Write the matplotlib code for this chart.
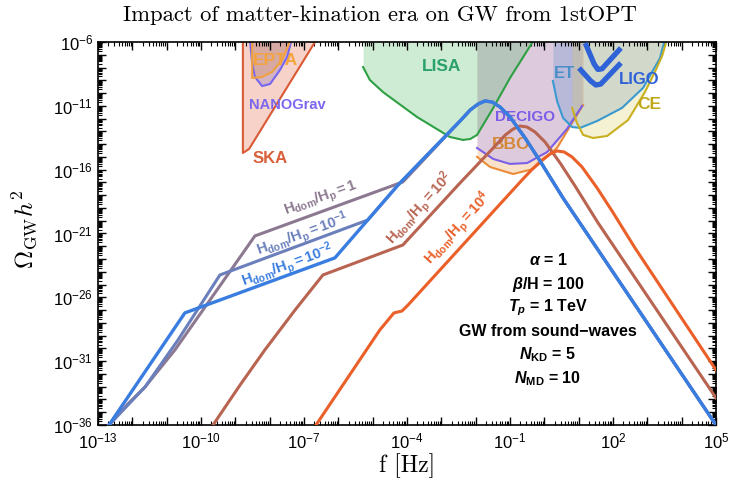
import matplotlib.pyplot as plt
import numpy as np
from matplotlib.ticker import LogLocator, FuncFormatter, NullFormatter

plt.rcParams['font.family'] = ['Liberation Sans', 'DejaVu Sans']
plt.rcParams['mathtext.fontset'] = 'custom'
plt.rcParams['mathtext.rm'] = 'Liberation Sans'
plt.rcParams['mathtext.it'] = 'Liberation Sans:italic'
plt.rcParams['mathtext.bf'] = 'Liberation Sans:bold'
plt.rcParams['mathtext.bfit'] = 'Liberation Sans:bold:italic'

# spectra: log10(f/Hz), log10(Omega h^2)
lf_m2 = [-12.68, -10.47, -6.10, -4.26, -2.455, -2.16, -1.93, -1.73, -1.52, -1.29, -1.00, -0.56, -0.125, 0.545, 5.0]
lo_m2 = [-36.0, -27.22, -22.91, -17.20, -12.19, -11.33, -10.86, -10.62, -10.70, -11.09, -11.87, -13.52, -15.32, -18.22, -36.0]

lf_m1 = [-12.68, -11.63, -10.67, -9.45, -5.14, -4.26, -2.455, -2.16, -1.93, -1.73, -1.52, -1.29, -1.00, -0.56, -0.125, 0.545, 5.0]
lo_m1 = [-36.0, -33.02, -29.34, -24.25, -19.94, -17.20, -12.19, -11.33, -10.86, -10.62, -10.70, -11.09, -11.87, -13.52, -15.32, -18.22, -36.0]

lf_0 = [-12.68, -12.13, -11.63, -10.76, -9.88, -8.43, -4.12, -2.455, -2.16, -1.93, -1.73, -1.52, -1.29, -1.00, -0.56, -0.125, 0.545, 5.0]
lo_0 = [-36.0, -34.35, -33.02, -30.12, -26.75, -21.19, -16.96, -12.19, -11.33, -10.86, -10.62, -10.70, -11.09, -11.87, -13.52, -15.32, -18.22, -36.0]

lf_2 = [-9.65, -8.86, -8.14, -7.26, -6.45, -4.12, -2.455, -1.435, -1.14, -0.91, -0.71, -0.50, -0.27, 0.02, 0.46, 0.895, 1.565, 5.0]
lo_2 = [-36.0, -32.86, -30.12, -26.99, -24.25, -21.90, -17.04, -14.15, -13.29, -12.82, -12.58, -12.66, -13.05, -13.83, -15.48, -17.28, -20.17, -33.88]

lf_4 = [-6.65, -4.79, -4.38, -4.145, -3.97, -0.65, -0.358, -0.063, 0.167, 0.367, 0.577, 0.807, 1.097, 1.537, 1.972, 2.64, 5.0]
lo_4 = [-36.0, -28.55, -27.22, -27.07, -26.60, -16.81, -15.98, -15.245, -14.775, -14.535, -14.615, -15.005, -15.785, -17.435, -19.235, -22.13, -31.69]

# detector sensitivity curves (log10 f, log10 Omega h^2)
ska_f = [-8.78, -8.78, -8.60, -6.68]
ska_o = [-6.0, -14.69, -14.38, -6.0]
epta_f = [-8.51, -8.51, -8.22, -7.93, -7.64, -7.41]
epta_o = [-6.0, -8.82, -8.74, -8.35, -7.41, -6.0]
nano_f = [-8.57, -8.51, -8.43, -8.22, -7.99, -7.70, -7.49, -7.38]
nano_o = [-6.0, -7.64, -8.74, -9.45, -9.29, -8.19, -7.17, -6.0]
lisa_f = [-5.28, -5.08, -4.70, -3.71, -2.75, -2.37, -2.16, -1.96, -1.49, -1.00, -0.36]
lisa_o = [-7.96, -8.98, -9.92, -11.87, -13.44, -13.67, -13.60, -13.28, -11.17, -8.82, -6.08]
decigo_f = [-1.96, -1.49, -1.00, -0.50, 0.08, 0.66, 1.10]
decigo_o = [-14.30, -15.16, -15.55, -15.48, -14.62, -12.81, -11.01]
bbo_f = [-1.96, -1.58, -0.91, -0.33, 0.37, 0.84, 1.13]
bbo_o = [-15.0, -15.79, -16.34, -15.95, -14.30, -12.19, -10.93]
et_f = [0.25, 0.37, 0.545, 0.81, 1.04, 1.535, 2.26, 2.875, 3.37, 3.49]
et_o = [-9.05, -10.62, -11.95, -12.66, -12.73, -12.19, -11.17, -9.60, -7.25, -6.0]
ce_f = [0.81, 0.95, 1.13, 1.42, 1.83, 2.44, 2.93, 3.22, 3.43, 3.55]
ce_o = [-11.17, -12.34, -13.28, -13.52, -13.36, -12.11, -9.92, -8.35, -7.10, -6.0]
ligo1_f = [1.19, 1.45, 1.56, 1.68, 2.23]
ligo1_o = [-6.08, -7.72, -8.15, -8.10, -6.47]
ligo2_f = [1.01, 1.35, 1.50, 1.64, 2.23]
ligo2_o = [-8.04, -9.05, -9.37, -9.30, -7.64]

fig = plt.figure(figsize=(7.32, 4.93), dpi=100)
ax = fig.add_axes([98/732, 1-425/493, 618/732, 383/493])
ax.set_xscale('log')
ax.set_yscale('log')
ax.set_xlim(1e-13, 1e5)
ax.set_ylim(1e-36, 1e-6)

p = lambda a: 10.0**np.array(a)

def region(lf, lo, c, fc, alpha, z=1):
    ax.fill_between(p(lf), p(lo), 1e-6, color=fc, alpha=alpha, lw=0, zorder=z)
    ax.plot(p(lf), p(lo), color=c, lw=1.5, zorder=2)

region(ska_f, ska_o, '#d95a35', '#e06040', 0.28)
region(nano_f, nano_o, '#7766ee', '#8070c0', 0.3)
region(epta_f, epta_o, '#f0a040', '#e09050', 0.3)
region(bbo_f, bbo_o, '#ea8c3a', '#f0a050', 0.3)
region(decigo_f, decigo_o, '#7b5fe6', '#ddcbdd', 1.0, z=1.1)
region(lisa_f, lisa_o, '#2ea043', '#4cb860', 0.27, z=1.2)
region(et_f, et_o, '#3a9ad0', '#4a80d0', 0.25, z=1.3)
region(ce_f, ce_o, '#c8b020', '#d8c850', 0.25, z=1.4)
for lf, lo in [(ligo1_f, ligo1_o), (ligo2_f, ligo2_o)]:
    ax.plot(p(lf), p(lo), color='#2e62d6', lw=3.8, zorder=3, solid_capstyle='butt', solid_joinstyle='round')

det_labels = [
    ('EPTA', -7.82, -7.41, '#f5a33a', 12.5),
    ('NANOGrav', -7.49, -10.93, '#7b68ee', 10.5),
    ('SKA', -7.99, -15.16, '#d9603b', 12),
    ('LISA', -2.98, -7.88, '#2aa06a', 12.5),
    ('DECIGO', -0.56, -11.87, '#7b5ce6', 11),
    ('BBO', -0.97, -13.99, '#d4883a', 12.5),
    ('ET', 0.60, -8.43, '#4a90c8', 12),
    ('LIGO', 2.76, -8.90, '#2e62d6', 12),
    ('CE', 3.05, -10.93, '#c0a818', 12.5),
]
for s, x, y, c, fs in det_labels:
    ax.text(10**x, 10**y, s, color=c, fontsize=fs, fontweight='bold', ha='center', va='center', zorder=4)

# spectra
ax.plot(p(lf_0), p(lo_0), color='#8c7890', lw=2.2, zorder=5)
ax.plot(p(lf_m1), p(lo_m1), color='#6a7fbb', lw=2.2, zorder=6)
ax.plot(p(lf_2), p(lo_2), color='#b86450', lw=2.2, zorder=5)
ax.plot(p(lf_4), p(lo_4), color='#eb5f28', lw=2.2, zorder=5)
ax.plot(p(lf_m2), p(lo_m2), color='#3a7de0', lw=2.4, zorder=7)

curve_labels = [
    (r'$\mathbf{H_{dom}/H_{p} = 1}$', -6.50, -18.29, '#8c7890', 20),
    (r'$\mathbf{H_{dom}/H_{p} = 10^{-1}}$', -7.03, -21.11, '#6a7fbb', 20),
    (r'$\mathbf{H_{dom}/H_{p} = 10^{-2}}$', -7.47, -23.54, '#3a7de0', 20),
    (r'$\mathbf{H_{dom}/H_{p} = 10^{2}}$', -3.62, -19.0, '#b86450', 48),
    (r'$\mathbf{H_{dom}/H_{p} = 10^{4}}$', -2.51, -20.57, '#eb5f28', 48),
]
for s, x, y, c, rot in curve_labels:
    ax.text(10**x, 10**y, s, color=c, fontsize=10.5, rotation=rot, ha='center', va='center',
            rotation_mode='anchor', zorder=8)

info = [
    r'$\boldsymbol{\alpha}$ = 1',
    r'$\boldsymbol{\beta}$/H = 100',
    r'$\boldsymbol{T}_\boldsymbol{p}$ = 1 TeV',
    'GW from sound\u2212waves',
    r'$\boldsymbol{N}_\mathbf{KD}$ = 5',
    r'$\boldsymbol{N}_\mathbf{MD}$ = 10',
]
info_y = [0.431, 0.368, 0.305, 0.245, 0.183, 0.120]
for s, y in zip(info, info_y):
    ax.text(0.728, y, s, transform=ax.transAxes, fontsize=11.5, fontweight='bold', ha='center', va='center')

# ticks
def fmt_x(v, pos):
    e = int(round(np.log10(v)))
    return r'$\mathdefault{10^{%d}}$' % e if (e + 13) % 3 == 0 else ''

def fmt_y(v, pos):
    e = int(round(np.log10(v)))
    return r'$\mathdefault{10^{%d}}$' % e if (e + 36) % 5 == 0 else ''

ax.xaxis.set_major_locator(LogLocator(base=10, subs=(1.0,), numticks=100))
ax.xaxis.set_minor_locator(LogLocator(base=10, subs=np.arange(2, 10), numticks=100))
ax.yaxis.set_major_locator(LogLocator(base=10, subs=(1.0,), numticks=100))
ax.yaxis.set_minor_locator(LogLocator(base=10, subs=np.arange(2, 10), numticks=100))
ax.xaxis.set_major_formatter(FuncFormatter(fmt_x))
ax.yaxis.set_major_formatter(FuncFormatter(fmt_y))
ax.xaxis.set_minor_formatter(NullFormatter())
ax.yaxis.set_minor_formatter(NullFormatter())
ax.tick_params(which='both', direction='in', top=True, right=True, labelsize=12)
ax.tick_params(which='major', length=6, width=1)
ax.tick_params(which='minor', length=3, width=0.8)
ax.tick_params(axis='x', which='major', pad=5)
for sp in ax.spines.values():
    sp.set_linewidth(1.2)

fig.text(380/732, 1-15/493, 'Impact of matter-kination era on GW from 1stOPT', family='cmr10',
         fontsize=16.3, ha='center', va='center')
fig.text(407/732, 1-466/493, 'f [Hz]', family='cmr10', fontsize=17, ha='center', va='center')
fig.text(25/732, 1-229/493, r'$\Omega_{\rm GW}h^2$', math_fontfamily='cm', fontsize=18,
         rotation=90, ha='center', va='center')

fig.savefig('out.png', dpi=100)
